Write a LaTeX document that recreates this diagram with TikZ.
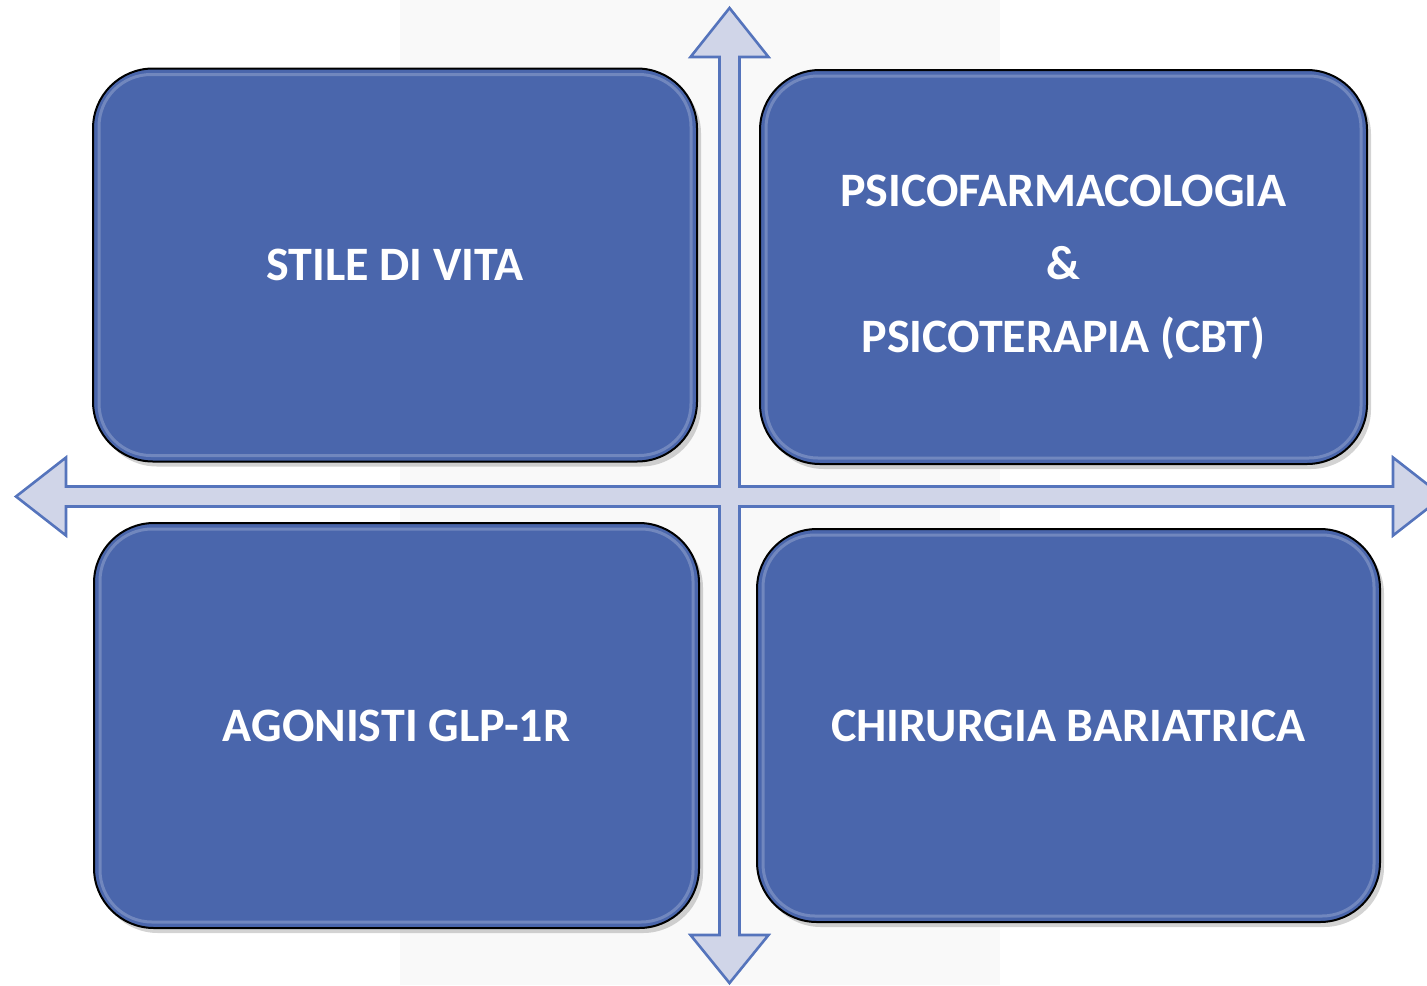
\documentclass[tikz,border=0pt]{standalone}
\usepackage{fontspec}
\setmainfont{Carlito}
\usetikzlibrary{shadows}

\definecolor{boxblue}{HTML}{4A66AC}
\definecolor{crossfill}{HTML}{D0D5E8}
\definecolor{crossline}{HTML}{5574BC}
\definecolor{band}{HTML}{F9F9F9}

\begin{document}
\begin{tikzpicture}[
			x=0.5pt, y=-0.5pt,
			base/.style={draw=black, line width=1pt, fill=boxblue, rounded corners=30pt, text=white,
				font=\bfseries\fontsize{24}{36.5}\selectfont, align=center,
				drop shadow={shadow xshift=2pt, shadow yshift=-2.5pt, opacity=0.35}},
			quadrant/.style={base, minimum width=302pt, minimum height=196.5pt},
			highlight/.style={draw=white, draw opacity=0.22, line width=1.5pt, rounded corners=26pt},
			cross/.style={fill=crossfill, draw=crossline, line width=1.3pt, line join=miter},
			]

			\newcommand{\shaft}{10}
			\newcommand{\head}{39}

			\useasboundingbox (0,0) rectangle (1427,985);
			\clip (0,0) rectangle (1427,985);
			\fill [band] (400,0) rectangle (1000,985);

			% four-way arrow
			\draw [cross] (729.5,8) -- (729.5+\head,57) -- (729.5+\shaft,57) -- (729.5+\shaft,496.5-\shaft)
				-- (1393,496.5-\shaft) -- (1393,496.5-\head) -- (1443,496.5) -- (1393,496.5+\head) -- (1393,496.5+\shaft)
				-- (729.5+\shaft,496.5+\shaft) -- (729.5+\shaft,935) -- (729.5+\head,935) -- (729.5,983)
				-- (729.5-\head,935) -- (729.5-\shaft,935) -- (729.5-\shaft,496.5+\shaft)
				-- (66,496.5+\shaft) -- (66,496.5+\head) -- (16,496.5) -- (66,496.5-\head) -- (66,496.5-\shaft)
				-- (729.5-\shaft,496.5-\shaft) -- (729.5-\shaft,57) -- (729.5-\head,57) -- cycle;

			\node [quadrant] (stile) at (395,265) {STILE DI VITA};
			\node [quadrant, minimum width=303.5pt, minimum height=197pt] (psico) at (1063.5,267)
				{PSICOFARMACOLOGIA\\\&\\PSICOTERAPIA (CBT)};
			\node [quadrant, minimum width=302.5pt, minimum height=202.5pt] (glp) at (396.5,725.5) {AGONISTI GLP-1R};
			\node [quadrant, minimum width=311.5pt] (chirurgia) at (1068.5,725.5) {CHIRURGIA BARIATRICA};

			\foreach \n in {stile,psico,glp,chirurgia}
				\draw [highlight] ([xshift=3.5pt,yshift=-3.5pt]\n.north west) rectangle ([xshift=-3.5pt,yshift=3.5pt]\n.south east);

		\end{tikzpicture}
\end{document}
